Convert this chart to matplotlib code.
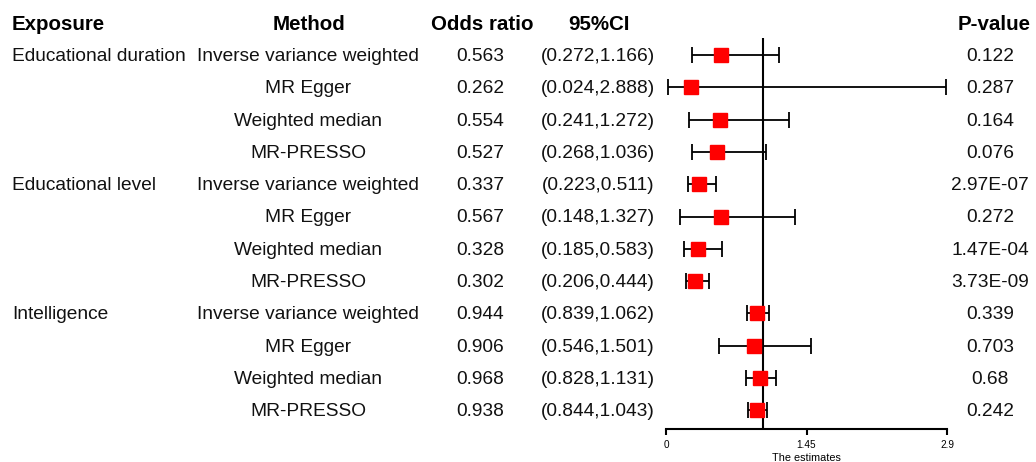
import matplotlib
matplotlib.use("Agg")
import matplotlib.pyplot as plt
from matplotlib import transforms

plt.rcParams['font.family'] = ['Liberation Sans', 'DejaVu Sans']

exposures = ["Educational duration", "", "", "",
             "Educational level", "", "", "",
             "Intelligence", "", "", ""]
methods = ["Inverse variance weighted", "MR Egger", "Weighted median", "MR-PRESSO"] * 3
odds = [0.563, 0.262, 0.554, 0.527,
        0.337, 0.567, 0.328, 0.302,
        0.944, 0.906, 0.968, 0.938]
ci_low = [0.272, 0.024, 0.241, 0.268,
          0.223, 0.148, 0.185, 0.206,
          0.839, 0.546, 0.828, 0.844]
ci_high = [1.166, 2.888, 1.272, 1.036,
           0.511, 1.327, 0.583, 0.444,
           1.062, 1.501, 1.131, 1.043]
pvals = ["0.122", "0.287", "0.164", "0.076",
         "2.97E-07", "0.272", "1.47E-04", "3.73E-09",
         "0.339", "0.703", "0.68", "0.242"]
xticks = [0, 1.45, 2.9]

W, H = 1036, 462
fig = plt.figure(figsize=(W / 100, H / 100), dpi=100)

# forest plot axes in pixel terms
left, right = 666, 947
top_px, bottom_px = 38, 429
ax = fig.add_axes([left / W, (H - bottom_px) / H, (right - left) / W, (bottom_px - top_px) / H])

row0, step = 55, 32.3
y_top = (top_px - row0) / step
y_bot = (bottom_px - row0) / step
ax.set_ylim(y_bot, y_top)
ax.set_xlim(0, 2.9)

rows = list(range(len(odds)))
err = [[o - l for o, l in zip(odds, ci_low)], [h - o for o, h in zip(odds, ci_high)]]
ax.errorbar(odds, rows, xerr=err, fmt='none', ecolor='black', elinewidth=1.3,
            capsize=5.5, capthick=1.3, zorder=2)
ax.plot(odds, rows, 's', color='#ff0000', markersize=9.8, zorder=3, linestyle='none')
ax.axvline(1, color='black', lw=1.5, zorder=1)

for s in ['top', 'left', 'right']:
    ax.spines[s].set_visible(False)
ax.spines['bottom'].set_linewidth(1.5)
ax.set_yticks([])
ax.set_xticks(xticks)
ax.set_xticklabels(["0", "1.45", "2.9"], fontsize=7.2)
ax.tick_params(axis='x', length=4, width=1.5, pad=4)
ax.set_xlabel("The estimates", fontsize=7.8, labelpad=2)
ax.patch.set_alpha(0)

# table text: x in figure pixels, y in data rows, nudged down a touch
nudge = transforms.ScaledTranslation(0, -1.5 / 100, fig.dpi_scale_trans)
tr = transforms.blended_transform_factory(fig.transFigure, ax.transData) + nudge
fs = 13.8
tc = '#111111'
for i in rows:
    fig.text(12 / W, i, exposures[i], transform=tr, ha='left', va='center', fontsize=fs, color=tc)
    fig.text(308 / W, i, methods[i], transform=tr, ha='center', va='center', fontsize=fs, color=tc)
    fig.text(480 / W, i, f"{odds[i]:.3f}", transform=tr, ha='center', va='center', fontsize=fs, color=tc)
    fig.text(598 / W, i, f"({ci_low[i]:.3f},{ci_high[i]:.3f})", transform=tr,
             ha='center', va='center', fontsize=fs, color=tc)
    fig.text(990 / W, i, pvals[i], transform=tr, ha='center', va='center', fontsize=fs, color=tc)

hy = 1 - 25 / H
hfs = 14.8
fig.text(12 / W, hy, "Exposure", ha='left', va='center', fontsize=hfs, fontweight='bold')
fig.text(309 / W, hy, "Method", ha='center', va='center', fontsize=hfs, fontweight='bold')
fig.text(482 / W, hy, "Odds ratio", ha='center', va='center', fontsize=hfs, fontweight='bold')
fig.text(599 / W, hy, "95%CI", ha='center', va='center', fontsize=hfs, fontweight='bold')
fig.text(994 / W, hy, "P-value", ha='center', va='center', fontsize=hfs, fontweight='bold')

fig.savefig("out.png", dpi=100, facecolor='white')
